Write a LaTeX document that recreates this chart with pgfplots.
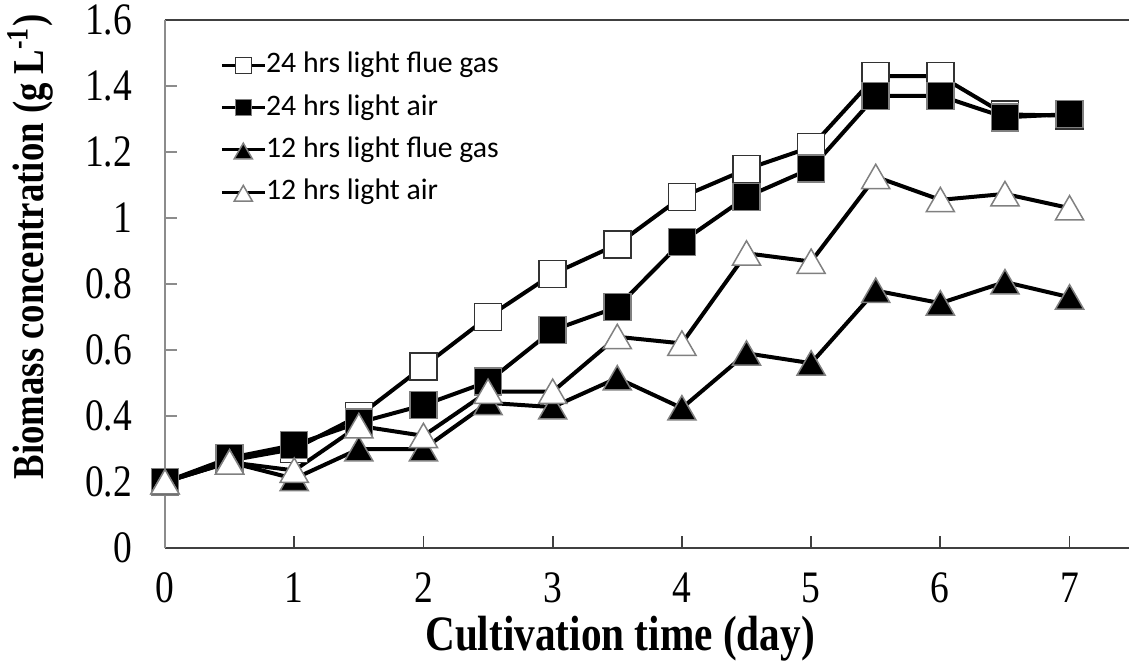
\documentclass[border=0pt]{standalone}
\usepackage{pgfplots}
\pgfplotsset{compat=1.18}
\usepackage{fontspec}
\setmainfont{Liberation Serif}
\newfontfamily\legfont{Carlito}
\begin{document}
\begin{tikzpicture}
\path[use as bounding box] (-66pt,-46pt) rectangle (385.6pt,219.2pt);
\begin{axis}[
  scale only axis, width=385.6pt, height=211.2pt,
  xmin=0, xmax=7.46, ymin=0, ymax=1.6,
  axis x line=box, axis y line=left, axis line style={-},
  x axis line style={black!75, line width=0.8pt},
  y axis line style={black!45, line width=0.8pt},
  xtick={0,1,2,3,4,5,6,7}, ytick={0,0.2,0.4,0.6,0.8,1,1.2,1.4,1.6},
  xtick pos=bottom, ytick pos=left,
  tick align=inside, major tick length=5pt,
  xtick style={black!75, line width=0.7pt},
  ytick style={black!45, line width=0.7pt},
  /pgf/number format/assume math mode=true,
  ticklabel style={font=\fontsize{15}{18}\selectfont, inner sep=0pt, yscale=1.2},
  xticklabel style={yshift=-8pt},
  yticklabel style={xshift=-13pt},
  xlabel={Cultivation time (day)},
  xlabel style={at={(axis description cs:0.472,0)}, anchor=north, inner sep=0pt, yshift=-27pt, yscale=1.2, font=\bfseries\fontsize{16.5}{20}\selectfont},
  ylabel={Biomass concentration (g L\textsuperscript{-1})},
  ylabel style={at={(axis description cs:-0.14,0.57)}, anchor=center, inner sep=0pt, yscale=1.2, font=\bfseries\fontsize{14.7}{18}\selectfont},
  legend style={at={(axis description cs:0.057,0.941)}, anchor=north west, draw=none, fill=none, inner sep=0pt,
    font=\legfont\fontsize{11.9}{14}\selectfont, row sep=5.9pt,
    nodes={inner sep=0pt, text height=8.5pt, text depth=2.5pt}},
  legend cell align=left,
  every axis plot/.append style={line width=1.6pt, black},
]
\addplot[mark=square*, mark size=5.4pt, mark options={fill=white, draw=black!80, line width=0.6pt},
  legend image post style={mark size=3.2pt, line width=1.2pt}] coordinates {
  (0,0.2) (0.5,0.265) (1,0.30) (1.5,0.40) (2,0.55) (2.5,0.70) (3,0.83) (3.5,0.92)
  (4,1.064) (4.5,1.148) (5,1.215) (5.5,1.43) (6,1.43) (6.5,1.314) (7,1.31)};
\addlegendentry{24 hrs light flue gas}
\addplot[mark=square*, mark size=5.4pt, mark options={fill=black, draw=black!50, line width=0.6pt},
  legend image post style={mark size=3.2pt, line width=1.2pt}] coordinates {
  (0,0.2) (0.5,0.273) (1,0.312) (1.5,0.38) (2,0.433) (2.5,0.504) (3,0.66) (3.5,0.73)
  (4,0.928) (4.5,1.064) (5,1.15) (5.5,1.37) (6,1.37) (6.5,1.305) (7,1.315)};
\addlegendentry{24 hrs light air}
\addplot[mark=triangle*, mark size=6.5pt, mark options={fill=black, draw=black!50, line width=0.6pt, yshift=-1.5pt},
  legend image post style={mark size=4.2pt, line width=1.2pt}] coordinates {
  (0,0.2) (0.5,0.26) (1,0.21) (1.5,0.30) (2,0.30) (2.5,0.44) (3,0.427) (3.5,0.515)
  (4,0.424) (4.5,0.59) (5,0.56) (5.5,0.78) (6,0.742) (6.5,0.806) (7,0.76)};
\addlegendentry{12 hrs light flue gas}
\addplot[mark=triangle*, mark size=6.5pt, mark options={fill=white, draw=black!50, line width=0.6pt, yshift=-1.5pt},
  legend image post style={mark size=4.2pt, line width=1.2pt}] coordinates {
  (0,0.2) (0.5,0.26) (1,0.235) (1.5,0.37) (2,0.34) (2.5,0.474) (3,0.474) (3.5,0.64)
  (4,0.62) (4.5,0.893) (5,0.868) (5.5,1.125) (6,1.055) (6.5,1.073) (7,1.03)};
\addlegendentry{12 hrs light air}
\end{axis}
\end{tikzpicture}
\end{document}
